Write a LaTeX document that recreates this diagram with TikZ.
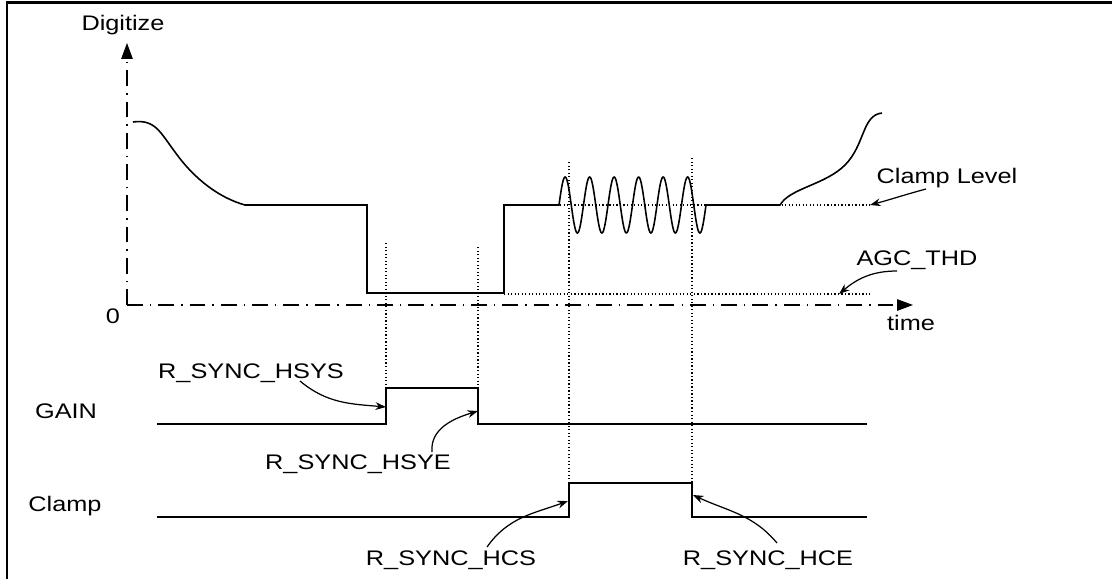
\documentclass[tikz,border=0pt]{standalone}
\usepackage{fontspec}
\setmainfont{Liberation Sans}[FakeStretch=1.2]
\usetikzlibrary{arrows.meta,calc}

\begin{document}
\begin{tikzpicture}[
    x=0.02cm, y=-0.02cm,
    >={Stealth[length=6pt,width=4.4pt]},
    wave/.style={line width=0.9pt},
    guide/.style={line width=0.6pt, dash pattern=on 0.7pt off 1.3pt},
    axis/.style={line width=0.6pt, dash pattern=on 9pt off 4pt on 0.8pt off 4pt, -{Triangle[length=9pt,width=6.5pt]}},
    lbl/.style={font=\fontsize{12}{14}\selectfont, anchor=base, inner sep=1pt},
    callout/.style={->, line width=0.7pt}
]
\useasboundingbox (0,0) rectangle (1112,579);
\draw[line width=1.6pt] (7,579) -- (7,2.5) -- (1112,2.5);

% axes
\coordinate (origin) at (127,305);
\coordinate (ytop) at (127,43);
\coordinate (xend) at (913,305);
\draw[axis] (origin) -- (ytop);
\draw[axis] (origin) -- (xend);
\node[lbl] (digitize) at (123,30) {Digitize};
\node[lbl] (zero) at (113,323) {0};
\node[lbl] (time) at (911,330) {time};

% levels and markers
\draw[guide] (504,205) -- (870,205);
\draw[guide] (504,294) -- (870,294);
\draw[guide] (386,243) -- (386,388);
\draw[guide] (478,247) -- (478,388);
\draw[guide] (569,162) -- (569,483);
\draw[guide] (692,158) -- (692,483);

% video signal
\draw[wave] (133,122) .. controls (155,119) and (160,132) .. (175,152)
    .. controls (195,180) and (220,198) .. (245,205)
    -- (367,205) -- (367,293) -- (504,293) -- (504,205) -- (559,205)
    -- plot[domain=0:147, samples=240, smooth] ({559+\x},{205-28*sin(14.6939*\x)})
    -- (780,205) .. controls (790,188) and (825,185) .. (845,165)
    .. controls (865,145) and (862,115) .. (882,113);

% GAIN and Clamp
\node[lbl] (gain) at (66,418) {GAIN};
\node[lbl] (clamp) at (65,511) {Clamp};
\draw[wave] (157,424) -- (386,424) -- (386,388) -- (478,388) -- (478,424) -- (867,424);
\draw[wave] (157,517) -- (569,517) -- (569,483) -- (692,483) -- (692,517) -- (867,517);

% callouts
\node[lbl] (clvl) at (947,183) {Clamp Level};
\node[lbl] (agc) at (917,265) {AGC\_THD};
\node[lbl] (hsys) at (251,378) {R\_SYNC\_HSYS};
\node[lbl] (hsye) at (358,469) {R\_SYNC\_HSYE};
\node[lbl] (hcs) at (451,565) {R\_SYNC\_HCS};
\node[lbl] (hce) at (768,565) {R\_SYNC\_HCE};
\coordinate (tclvl) at (870,205);
\coordinate (tagc) at (839,294);
\coordinate (thsys) at (386,407);
\coordinate (thsye) at (478,411);
\coordinate (thcs) at (568,501);
\coordinate (thce) at (693,495);
\draw[callout] ($(clvl.base)+(-21,6)$) to[out=195, in=15] (tclvl);
\draw[callout] ($(agc.base)+(-20,6)$) to[out=180, in=40] (tagc);
\draw[callout] ($(hsys.base)+(49,3)$) to[out=-40, in=175] (thsys);
\draw[callout] ($(hsye.base)+(74,-17)$) to[out=95, in=197] (thsye);
\draw[callout] ($(hcs.base)+(36,-18)$) to[out=55, in=200] (thcs);
\draw[callout] ($(hce.base)+(9,-22)$) to[out=130, in=-25] (thce);
\end{tikzpicture}
\end{document}
